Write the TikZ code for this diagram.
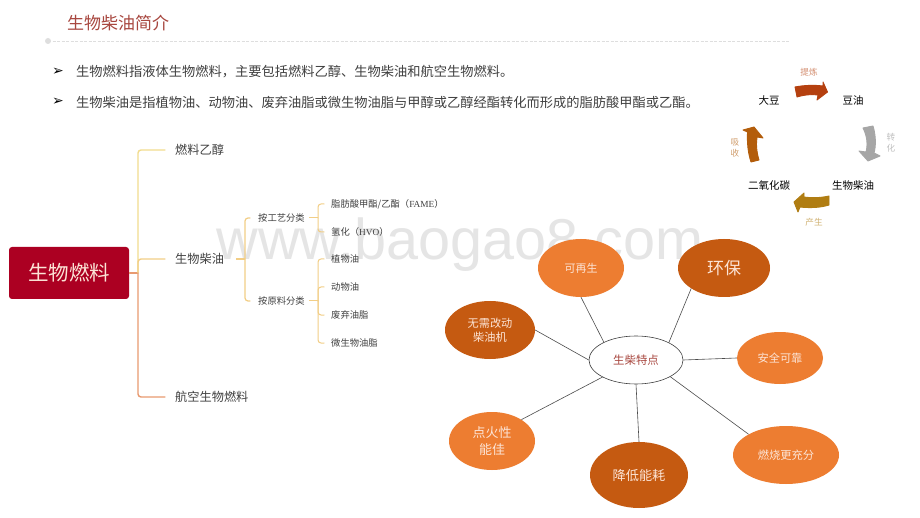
\documentclass[tikz,border=0pt]{standalone}
\usepackage{fontspec}
\setmainfont{Noto Sans CJK SC}
\newfontfamily\wmfont{Liberation Sans}
\newfontfamily\serfont{Liberation Serif}
\newfontfamily\symfont{DejaVu Sans}
\usetikzlibrary{shapes.geometric}
\newcommand{\fs}[1]{\fontsize{#1}{#1}\selectfont\baselineskip=1.25\baselineskip}
\definecolor{txt}{HTML}{404040}
\definecolor{lightor}{HTML}{ED7D31}
\definecolor{darkor}{HTML}{C55A11}
\definecolor{peach}{HTML}{FCE4D6}
\definecolor{ybr}{HTML}{F2DC8E}
\definecolor{mbr}{HTML}{F2CE86}
\definecolor{bbr}{HTML}{E89A70}
\definecolor{rootred}{HTML}{AC0022}
\definecolor{titlec}{HTML}{A8473F}
\definecolor{arA}{HTML}{B5400F}
\definecolor{arB}{HTML}{A6A6A6}
\definecolor{arC}{HTML}{B07D12}
\definecolor{arD}{HTML}{B35D0B}
\tikzset{
 lab/.style={inner sep=0pt,text=txt,anchor=west},
 big/.style={lab,font=\fs{12.2}},
 small/.style={lab,font=\fs{9.3}},
 bullet/.style={lab,font=\fs{13.25}},
 cyc/.style={inner sep=0pt,text=black,font=\fs{10.5}},
 cyl/.style={inner sep=0pt,font=\fs{8.6},align=center},
 cycarrow/.style={draw=#1,fill=#1,line width=0.9pt,line join=round},
 oval/.style={ellipse,inner sep=0pt,text=peach,align=center,minimum width=#1},
 br/.style={line width=1.4pt,rounded corners=3pt,line cap=round},
 spoke/.style={draw=black!70,line width=0.6pt}
}
\begin{document}
\begin{tikzpicture}[x=1pt,y=-1pt]
\useasboundingbox (0,0) rectangle (920,518);
\fill[white] (0,0) rectangle (920,518);
% watermark
\node[inner sep=0pt,anchor=base,text=black!10,font={\wmfont\fontsize{57.6}{60}\selectfont}] (wm) at (460,260) {www.baogao8.com};
% title
\node[inner sep=0pt,anchor=west,text=titlec,font=\fs{17}] (title) at (67,23) {生物柴油简介};
\fill[black!13] (48,41) circle (3);
\coordinate (ruleA) at (48,41);
\coordinate (ruleB) at (790,41);
\draw[black!13,line width=0.9pt,dash pattern=on 3pt off 1.5pt] (ruleA) -- (ruleB);
% bullets
\node[inner sep=0pt,font={\symfont\fontsize{14}{16}\selectfont}] (b1) at (58,72) {➢};
\node[inner sep=0pt,font={\symfont\fontsize{14}{16}\selectfont}] (b2) at (58,102) {➢};
\node[bullet] (t1) at (76,72) {生物燃料指液体生物燃料^^^^ff0c主要包括燃料乙醇、生物柴油和航空生物燃料。};
\node[bullet] (t2) at (76,102) {生物柴油是指植物油、动物油、废弃油脂或微生物油脂与甲醇或乙醇经酯转化而形成的脂肪酸甲酯或乙酯。};
% mind map
\node[rounded corners=3pt,fill=rootred,text=peach,minimum width=120pt,minimum height=52pt,inner sep=0pt,font=\fs{20.5}] (root) at (69,273) {生物燃料};
\node[big] (n1) at (175,150) {燃料乙醇};
\node[big] (n2) at (175,259) {生物柴油};
\node[big] (n3) at (175,397) {航空生物燃料};
\node[small] (g1) at (258,218) {按工艺分类};
\node[small] (g2) at (258,301) {按原料分类};
\node[small] (l1) at (331,204) {脂肪酸甲酯/乙酯^^^^ff08{\serfont FAME}^^^^ff09};
\node[small] (l2) at (331,232) {氢化^^^^ff08{\serfont HVO}^^^^ff09};
\node[small] (l3) at (331,259) {植物油};
\node[small] (l4) at (331,287) {动物油};
\node[small] (l5) at (331,315) {废弃油脂};
\node[small] (l6) at (331,343) {微生物油脂};
% branch ends
\coordinate (j0) at (138,273);
\coordinate (e1) at (165,150);
\coordinate (e2) at (165,259);
\coordinate (e3) at (165,397);
\draw[bbr,line width=1.4pt] (root.east |- j0) -- (j0);
\draw[br,ybr] (j0) -- (138,150) -- (e1);
\draw[br,mbr] (j0) -- (138,259) -- (e2);
\draw[br,bbr] (j0) -- (138,397) -- (e3);
\coordinate (s2) at (236,259);
\coordinate (j2) at (245,259);
\coordinate (eg1) at (250,218);
\coordinate (eg2) at (250,301);
\draw[mbr,line width=1.2pt] (s2) -- (j2);
\draw[br,mbr,line width=1.2pt] (j2) -- (245,218) -- (eg1);
\draw[br,mbr,line width=1.2pt] (j2) -- (245,301) -- (eg2);
\coordinate (s3) at (309,218);
\coordinate (j3) at (318,218);
\coordinate (s4) at (309,301);
\coordinate (j4) at (318,301);
\foreach \a/\b in {s3/j3,s4/j4}{\draw[mbr,line width=1pt] (\a) -- (\b);}
\coordinate (k1) at (324,204);
\coordinate (k2) at (324,232);
\coordinate (k3) at (324,259);
\coordinate (k4) at (324,287);
\coordinate (k5) at (324,315);
\coordinate (k6) at (324,343);
\draw[br,mbr,line width=1pt] (j3) -- (318,204) -- (k1);
\draw[br,mbr,line width=1pt] (j3) -- (318,232) -- (k2);
\draw[br,mbr,line width=1pt] (j4) -- (318,259) -- (k3);
\draw[br,mbr,line width=1pt] (j4) -- (318,287) -- (k4);
\draw[br,mbr,line width=1pt] (j4) -- (318,315) -- (k5);
\draw[br,mbr,line width=1pt] (j4) -- (318,343) -- (k6);
% cycle
\node[cyc] (c1) at (769,101) {大豆};
\node[cyc] (c2) at (853,101) {豆油};
\node[cyc] (c3) at (853,186) {生物柴油};
\node[cyc] (c4) at (769,186) {二氧化碳};
\node[cyl,text=arA!60] (c5) at (809,72) {提炼};
\node[cyl,text=black!25] (c6) at (891,143) {转\\化};
\node[cyl,text=arC!60] (c7) at (814,222) {产生};
\node[cyl,text=arD!60] (c8) at (735,148) {吸\\收};
\path[cycarrow=arA] (795,87) .. controls (805,85) and (815,85) .. (823,86) -- (823,82) -- (827.5,92) -- (817,100) -- (818,95) .. controls (811,94) and (803,95) .. (797,97) -- cycle;
\path[cycarrow=arB] (863,128) -- (873,126) .. controls (876,136) and (876,146) .. (874,153) -- (880,156) -- (868,161) -- (859,151) -- (866,152) .. controls (868,144) and (867,136) .. (863,128) -- cycle;
\path[cycarrow=arC] (829,196) -- (829,205) .. controls (820,208) and (808,208) .. (800,207) -- (798,212) -- (794,202) -- (804,193) -- (804,197) .. controls (811,198) and (820,198) .. (829,196) -- cycle;
\path[cycarrow=arD] (751,162) -- (759,160) .. controls (756.5,152) and (756,144) .. (757,137) -- (763,138) -- (754,127) -- (743,130) -- (747.5,132) .. controls (747,143) and (748,153) .. (751,162) -- cycle;
% ovals
\node[ellipse,draw=black!75,line width=0.6pt,fill=white,minimum width=94pt,minimum height=48pt,inner sep=0pt,text=titlec,font=\fs{11.4}] (hub) at (636,360) {生柴特点};
\node[oval=86pt,minimum height=58pt,fill=lightor,font=\fs{11}] (o1) at (581,268) {可再生};
\node[oval=92pt,minimum height=58pt,fill=darkor,font=\fs{17}] (o2) at (724,268) {环保};
\node[oval=90pt,minimum height=58pt,fill=darkor,font=\fs{11.2}] (o3) at (490,330) {无需改动\\柴油机};
\node[oval=86pt,minimum height=52pt,fill=lightor,font=\fs{11.2}] (o4) at (780,358) {安全可靠};
\node[oval=86pt,minimum height=58pt,fill=lightor,font=\fs{13}] (o5) at (492,441) {点火性\\能佳};
\node[oval=98pt,minimum height=66pt,fill=darkor,font=\fs{13.2}] (o6) at (639,475) {降低能耗};
\node[oval=106pt,minimum height=58pt,fill=lightor,font=\fs{11.3}] (o7) at (786,455) {燃烧更充分};
\draw[spoke] (hub.151) -- (o1.270);
\draw[spoke] (hub.28) -- (o2.212);
\draw[spoke] (hub.180) -- (o3.0);
\draw[spoke] (hub.0) -- (o4.180);
\draw[spoke] (hub.-26) -- (o7.151);
\draw[spoke] (hub.270) -- (o6.90);
\draw[spoke] (hub.207) -- (o5.36);
\end{tikzpicture}
\end{document}
